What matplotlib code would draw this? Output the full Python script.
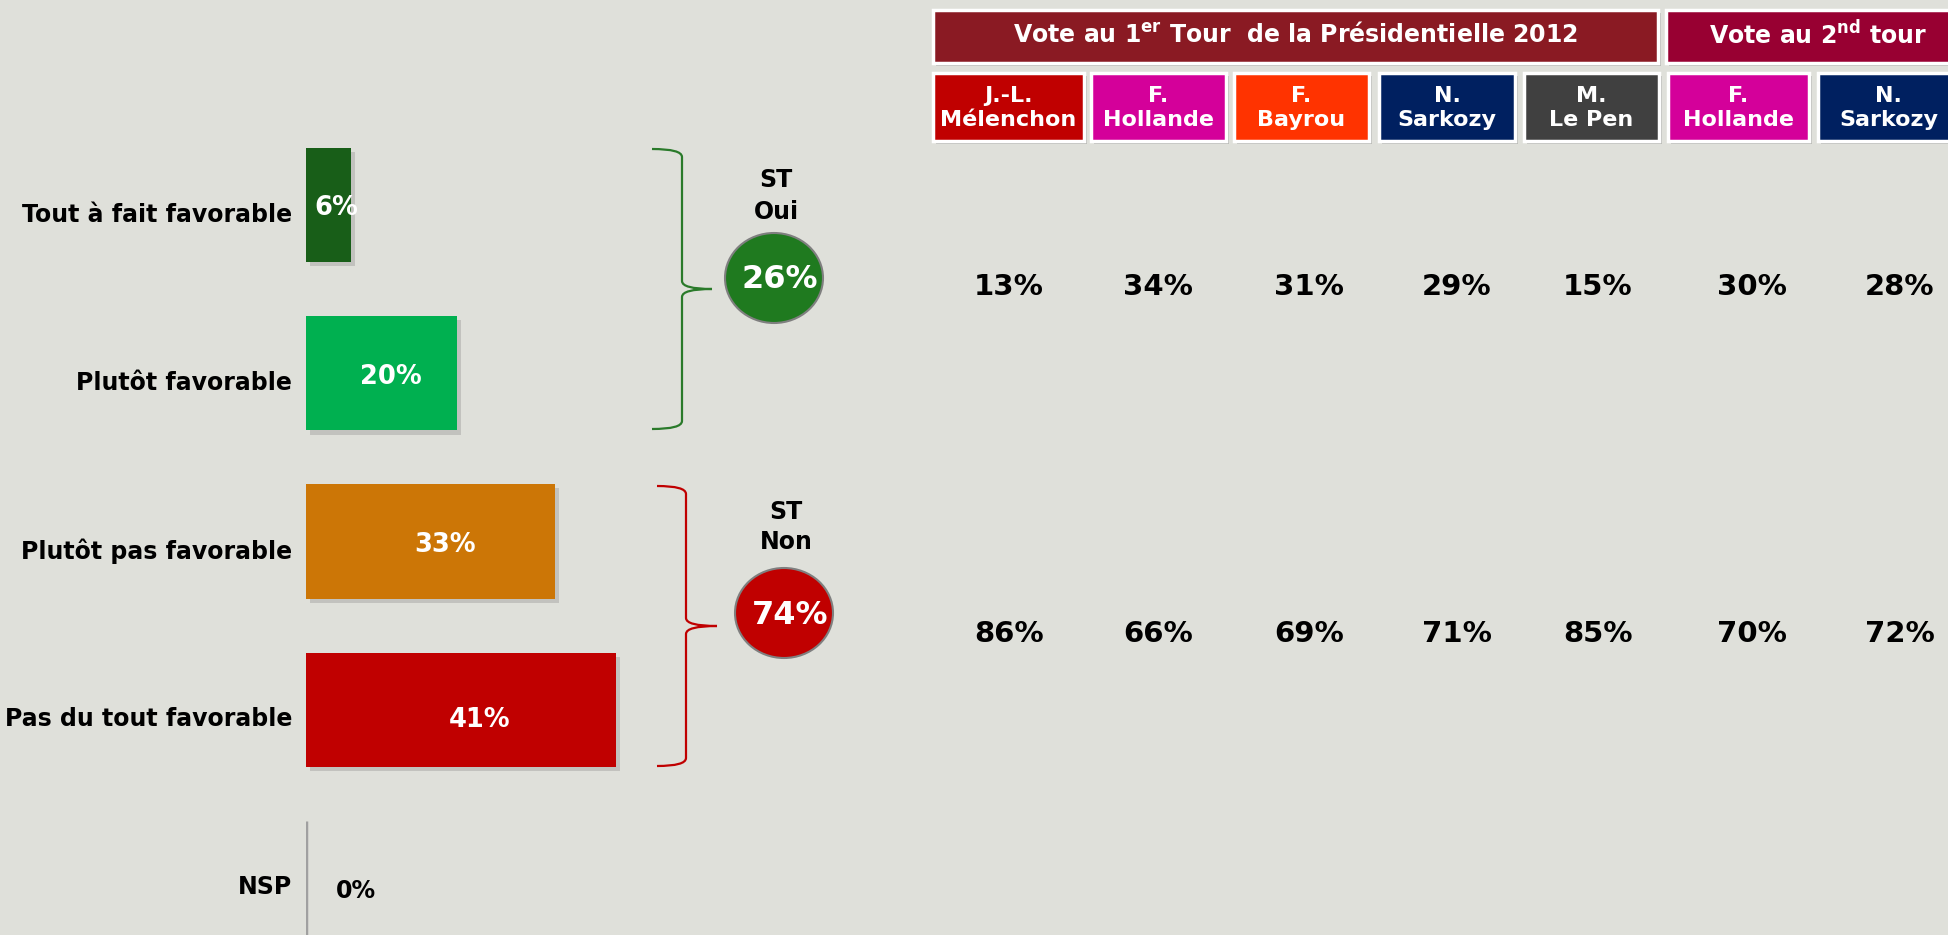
import matplotlib
matplotlib.use("Agg")
import matplotlib.pyplot as plt
import matplotlib.patheffects as pe
from matplotlib.patches import Rectangle, Ellipse, PathPatch
from matplotlib.path import Path
from matplotlib.transforms import ScaledTranslation

# ---- data ----
answers = ["Tout à fait favorable", "Plutôt favorable", "Plutôt pas favorable",
           "Pas du tout favorable", "NSP"]
answer_pct = [6, 20, 33, 41, 0]
answer_colors = ["#185e18", "#00b050", "#cc7606", "#c00000", "#a0a0a0"]

subtotal_labels = ["ST\nOui", "ST\nNon"]
subtotal_pct = [26, 74]
subtotal_colors = ["#1f7a1f", "#c00000"]

groups = [r"Vote au 1$^{\mathbf{er}}$ Tour  de la Présidentielle 2012",
          r"Vote au 2$^{\mathbf{nd}}$ tour"]
group_colors = ["#8a1a23", "#980032"]

candidates = ["J.-L.\nMélenchon", "F.\nHollande", "F.\nBayrou", "N.\nSarkozy",
              "M.\nLe Pen", "F.\nHollande", "N.\nSarkozy"]
candidate_colors = ["#c00000", "#d4009a", "#ff3300", "#002060", "#404040",
                    "#d4009a", "#002060"]
oui_by_candidate = [13, 34, 31, 29, 15, 30, 28]
non_by_candidate = [86, 66, 69, 71, 85, 70, 72]

# ---- layout (pixels) ----
W, H, DPI = 1949, 935, 100
BG = "#dfe0da"
col_left = [933, 1091, 1234, 1379, 1524, 1668, 1818]
col_width = [151, 135, 135, 136, 135, 141, 141]
value_x = [1009, 1158, 1309, 1457, 1598, 1752, 1900]
group_span = [(933, 1658), (1666, 1962)]

fig = plt.figure(figsize=(W / DPI, H / DPI), dpi=DPI, facecolor=BG)

shadow = [pe.SimplePatchShadow(offset=(3, -3), shadow_rgbFace="#8c8c8c", alpha=0.35),
          pe.Normal()]
box_shadow = [pe.SimplePatchShadow(offset=(2, -2), shadow_rgbFace="#8a8a8a", alpha=0.45),
              pe.Normal()]

# bar chart: 1% = 7.55 px, category pitch = 168 px
ax = fig.add_axes([306 / W, 1 - 962 / H, 60 * 7.55 / W, 841 / H])
ax.patch.set_visible(False)
ypos = list(range(len(answers)))
for y, v, c in zip(ypos, answer_pct, answer_colors):
    if v == 0:
        ax.vlines(0, y - 0.34, y + 0.34, color=c, linewidth=2.5)
        ax.text(6.6, y + 0.08, f"{v}%", color="black", fontsize=17,
                fontweight="bold", ha="center", va="center")
    else:
        b = ax.barh(y, v, height=0.68, color=c)
        for p in b:
            p.set_path_effects(shadow)
        lx = v * (0.68 if v < 10 else 0.56)
        ax.text(lx, y + (0.06 if v > 40 else 0.02), f"{v}%", color="white",
                fontsize=18.5, fontweight="bold", ha="center", va="center")
ax.set_xlim(0, 60)
ax.set_ylim(4.5, -0.5)
ax.set_xticks([])
ax.set_yticks(ypos)
ax.set_yticklabels(answers, fontsize=17, fontweight="bold")
ax.tick_params(axis="y", length=0, pad=10)
for lbl in ax.get_yticklabels():
    lbl.set_transform(lbl.get_transform() + ScaledTranslation(0, -0.07, fig.dpi_scale_trans))
for s in ax.spines.values():
    s.set_visible(False)

# overlay in pixel coordinates
ov = fig.add_axes([0, 0, 1, 1])
ov.set_xlim(0, W)
ov.set_ylim(H, 0)
ov.axis("off")
ov.patch.set_visible(False)


def brace(x0, x1, x2, ytop, ybot, color):
    ym = (ytop + ybot) / 2
    r = 8
    verts = [(x0, ytop), (x1, ytop), (x1, ytop + r),
             (x1, ym - r),
             (x1, ym), (x2, ym),
             (x1, ym), (x1, ym + r),
             (x1, ybot - r),
             (x1, ybot), (x0, ybot)]
    codes = [Path.MOVETO, Path.CURVE3, Path.CURVE3,
             Path.LINETO,
             Path.CURVE3, Path.CURVE3,
             Path.CURVE3, Path.CURVE3,
             Path.LINETO,
             Path.CURVE3, Path.CURVE3]
    ov.add_patch(PathPatch(Path(verts, codes), fill=False, edgecolor=color, lw=1.6))


brace(652, 682, 712, 149, 429, "#2a7a2a")
brace(657, 686, 717, 486, 766, "#c00000")

# subtotal circles
circ_pos = [(774, 278), (784, 613)]
title_y = [(180, 212), (512, 542)]
for (cx, cy), lab, pct, col, ty in zip(circ_pos, subtotal_labels, subtotal_pct,
                                        subtotal_colors, title_y):
    ov.add_patch(Ellipse((cx, cy), 98, 90, facecolor=col, edgecolor="#7f7f7f", lw=1.5))
    top, bottom = lab.split("\n")
    ov.text(cx + 2, ty[0], top, fontsize=17, fontweight="bold", ha="center", va="center")
    ov.text(cx + 2, ty[1], bottom, fontsize=17, fontweight="bold", ha="center", va="center")
    ov.text(cx + 6, cy + 2, f"{pct}%", fontsize=23, fontweight="bold", color="white",
            ha="center", va="center")

# group header boxes
for (gx0, gx1), g, gc in zip(group_span, groups, group_colors):
    r = Rectangle((gx0, 10), gx1 - gx0, 53, facecolor=gc, edgecolor="white", lw=2.5)
    r.set_path_effects(box_shadow)
    ov.add_patch(r)
    cx = (gx0 + gx1) / 2 if gx1 < W else 1818
    ov.text(cx, 35, g, fontsize=17, fontweight="bold", color="white",
            ha="center", va="center")

# candidate boxes and values
for x0, w, name, col, vx, oui, non in zip(col_left, col_width, candidates,
                                          candidate_colors, value_x,
                                          oui_by_candidate, non_by_candidate):
    r = Rectangle((x0, 73), w, 68, facecolor=col, edgecolor="white", lw=2.5)
    r.set_path_effects(box_shadow)
    ov.add_patch(r)
    ov.text(x0 + w / 2, 108, name, fontsize=16, fontweight="bold", color="white",
            ha="center", va="center", linespacing=1.3)
    ov.text(vx, 287, f"{oui}%", fontsize=21, fontweight="bold", ha="center", va="center")
    ov.text(vx, 634, f"{non}%", fontsize=21, fontweight="bold", ha="center", va="center")

fig.savefig("out.png", dpi=DPI, facecolor=BG)
